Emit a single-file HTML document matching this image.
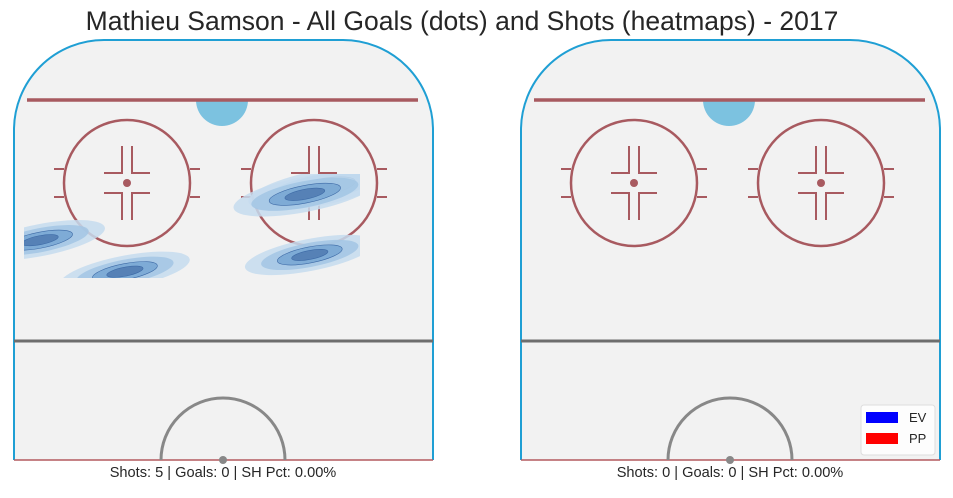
<!DOCTYPE html>
<html><head><meta charset="utf-8"><style>
body{margin:0;background:#fff;width:953px;height:493px;overflow:hidden;font-family:"Liberation Sans",sans-serif}
</style></head><body>
<svg id="svg" width="953" height="493" xmlns="http://www.w3.org/2000/svg">
<text x="462" y="30" font-size="26.5" text-anchor="middle" fill="#262626" font-family="Liberation Sans, sans-serif">Mathieu Samson - All Goals (dots) and Shots (heatmaps) - 2017</text>
<defs><clipPath id="hc"><rect x="24" y="174" width="336" height="104"/></clipPath></defs>
<g id="rinks"></g>
<g id="heat" clip-path="url(#hc)"></g>
<g>
<rect x="861" y="405" width="74" height="50" rx="3" fill="#fff" fill-opacity="0.85" stroke="#ddd"/>
<rect x="866" y="412" width="32" height="11" fill="#0000ff"/>
<text x="909" y="422" font-size="13" fill="#262626">EV</text>
<rect x="866" y="433" width="32" height="11" fill="#ff0000"/>
<text x="909" y="443" font-size="13" fill="#262626">PP</text>
</g>
<text x="223" y="477" font-size="14.6" text-anchor="middle" fill="#262626">Shots: 5 | Goals: 0 | SH Pct: 0.00%</text>
<text x="730" y="477" font-size="14.6" text-anchor="middle" fill="#262626">Shots: 0 | Goals: 0 | SH Pct: 0.00%</text>
</svg>
<script>
const shotX=[19.5,16.5,-37.2,-20,17.5];
const shotY=[30.0,31.3,40.6,47,43.6];
const shotW=[1.1,1.1,1.0,1.0,1.0];
const PX=4.93, TOP=40;
function sx(f,off){return 223.5+off+f*PX;}
function sy(f){return TOP+f*PX;}
const NS="http://www.w3.org/2000/svg";
function el(t,a,p){const e=document.createElementNS(NS,t);for(const k in a)e.setAttribute(k,a[k]);p.appendChild(e);return e;}
const rinks=document.getElementById('rinks');
[0,507].forEach((o,i)=>{
  const g=el('g',{},rinks);
  
  
  const L=14+o,R=433+o,T=40,B=460,r=90;
  el('path',{d:`M${L} ${B} L${L} ${T+r} A${r} ${r} 0 0 1 ${L+r} ${T} L${R-r} ${T} A${r} ${r} 0 0 1 ${R} ${T+r} L${R} ${B}`,fill:'#f2f2f2',stroke:'#1f9fd4','stroke-width':2},g);
  el('line',{x1:L,y1:B,x2:R,y2:B,stroke:'#b35a5f','stroke-width':1.5},g);
  el('path',{d:`M${196+o} 100 A26 26 0 0 0 ${248+o} 100 Z`,fill:'#7cc2e0'},g);
  el('line',{x1:27+o,y1:100,x2:418+o,y2:100,stroke:'#a85a60','stroke-width':3.5},g);
  [127,314].forEach(cx=>{
    cx+=o;const cy=183;const c='#a85a60';
    el('circle',{cx,cy,r:63,fill:'none',stroke:c,'stroke-width':2.5},g);
    el('circle',{cx,cy,r:4,fill:c},g);
    [[-73,-63],[63,73]].forEach(([a,b])=>{el('line',{x1:cx+a,y1:cy-14,x2:cx+b,y2:cy-14,stroke:c,'stroke-width':2},g);el('line',{x1:cx+a,y1:cy+14,x2:cx+b,y2:cy+14,stroke:c,'stroke-width':2},g);});
    [-1,1].forEach(s=>{[-1,1].forEach(v=>{
      el('path',{d:`M${cx+s*5} ${cy+v*37} L${cx+s*5} ${cy+v*10} L${cx+s*23} ${cy+v*10}`,fill:'none',stroke:c,'stroke-width':2},g);});});
  });
  el('line',{x1:L,y1:341,x2:R,y2:341,stroke:'#6e6e6e','stroke-width':3},g);
  el('path',{d:`M${161+o} ${B} A62 62 0 0 1 ${285+o} ${B}`,fill:'none',stroke:'#888','stroke-width':3},g);
  el('circle',{cx:223+o,cy:B,r:4,fill:'#888'},g);
});
const heat=document.getElementById('heat');
const levels=[[1,'#c6dcee',0.85],[0.75,'#a2c6e4',0.85],[0.5,'#77a6d2',0.85],[0.28,'#4f79b0',0.85]];
shotX.forEach((x,i)=>{
  const cx=sx(x,0),cy=sy(shotY[i]);
  const g=el('g',{transform:`translate(${cx} ${cy}) rotate(-11)`},heat);
  
  
  levels.forEach(([s,c,op])=>{el('ellipse',{rx:66*shotW[i]*s,ry:16*shotW[i]*s,fill:c,'fill-opacity':op,stroke:s<0.6?'#3d6aa6':'none','stroke-width':0.6},g);});
});
</script>
</body></html>
